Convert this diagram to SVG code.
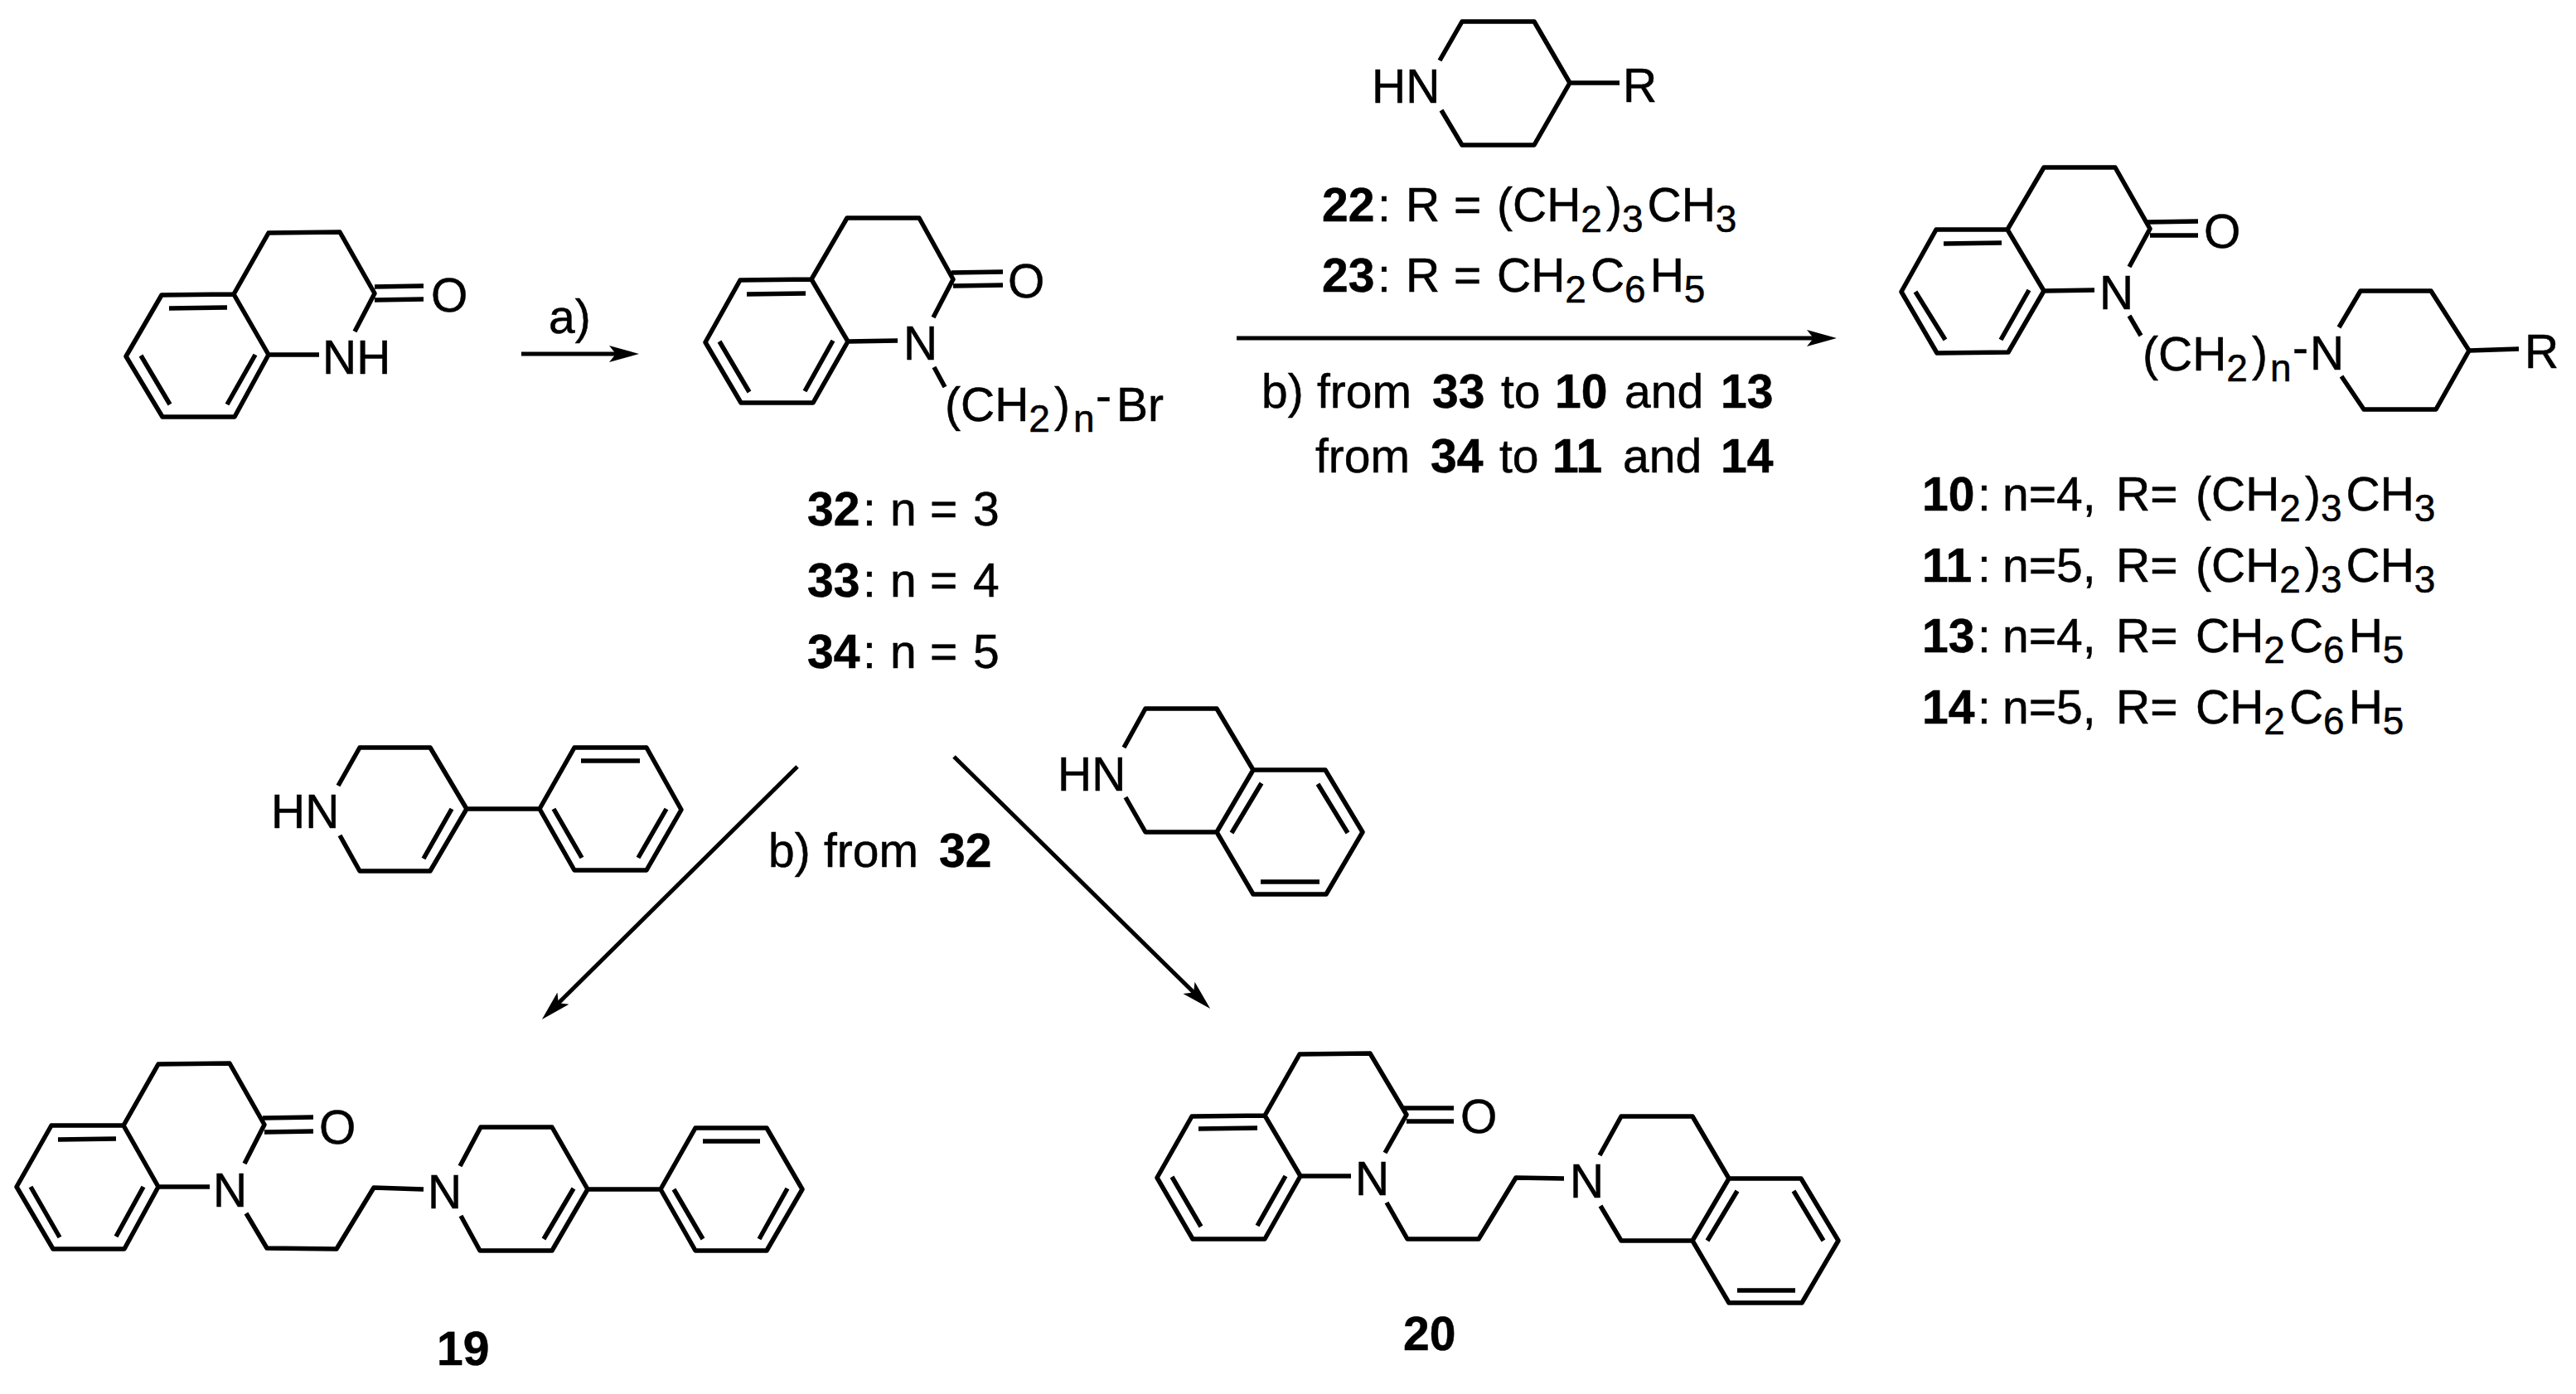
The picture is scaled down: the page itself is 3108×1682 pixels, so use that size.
<svg xmlns="http://www.w3.org/2000/svg" width="3108" height="1682" viewBox="0 0 3108 1682">
<style>
.b{fill:none;stroke:#000;stroke-width:5.5;stroke-linejoin:round;stroke-linecap:butt}
.a{fill:none;stroke:#000;stroke-width:5}
text{font-family:"Liberation Sans",Arial,sans-serif;font-size:57px;fill:#000;stroke:#000;stroke-width:.5px}
.k{font-weight:bold}
.s{font-size:46px;letter-spacing:5px}
</style>
<defs>
<marker id="head" markerUnits="userSpaceOnUse" markerWidth="40" markerHeight="26" viewBox="0 -13 40 26" refX="26" refY="0" orient="auto"><path d="M0,-10 L36,0 L0,10 L8,0 Z" fill="#000"/></marker>
</defs>
<rect width="3108" height="1682" fill="#fff"/>
<g id="connectors">
<path class="a" marker-end="url(#head)" d="M629,427 L761,427"/>
<path class="a" marker-end="url(#head)" d="M1492,408 L2206,408"/>
<path class="a" marker-end="url(#head)" d="M962,925 L661,1223"/>
<path class="a" marker-end="url(#head)" d="M1151,913 L1453,1210"/>
</g>
<g id="mol-start">
<path class="b" d="M282,355 L195,356 L152,430 L196,503 L283,503 L324,428 Z M282,355 L324,281 L410,280 L452,354 L428,400 M324,428 L385,428 M452,346 L511,345 M452,362 L511,361 M204,372 L274,371 M170,429 L205,488 M308,428 L274,488"/>
<text x="520" y="376">O</text>
<text x="389" y="451">NH</text>
</g>
<text id="label-a" x="662" y="402">a)</text>
<g id="mol-32-34">
<path class="b" d="M979,337 L893,338 L851,413 L894,486 L981,486 L1023,412 Z M979,337 L1022,263 L1109,263 L1150,337 L1126,383 M1023,412 L1083,411 M1127,443 L1140,467 M1148,329 L1210,328 M1150,345 L1210,344 M901,355 L972,354 M868,412 L904,473 M1005,411 L971,472"/>
<text x="1216" y="359">O</text>
<text x="1090" y="434">N</text>
<text x="1140" y="508">(CH<tspan class="s" dy="13">2</tspan><tspan dy="-13">)</tspan><tspan class="s" x="1295" dy="13">n</tspan><tspan x="1322" dy="-24">-</tspan><tspan x="1347" dy="11">Br</tspan></text>
</g>
<g id="labels-32-34">
<text y="634"><tspan class="k" x="974">32</tspan><tspan x="1041">:</tspan><tspan x="1074">n</tspan><tspan x="1122">=</tspan><tspan x="1174">3</tspan></text>
<text y="720"><tspan class="k" x="974">33</tspan><tspan x="1041">:</tspan><tspan x="1074">n</tspan><tspan x="1122">=</tspan><tspan x="1174">4</tspan></text>
<text y="806"><tspan class="k" x="974">34</tspan><tspan x="1041">:</tspan><tspan x="1074">n</tspan><tspan x="1122">=</tspan><tspan x="1174">5</tspan></text>
</g>
<g id="reagent-piperidine">
<path class="b" d="M1737,73 L1764,26 L1851,26 L1894,100 L1851,175 L1764,175 L1739,133 M1894,100 L1954,100"/>
<text x="1655" y="124">HN</text>
<text x="1958" y="123">R</text>
</g>
<g id="reagent-labels">
<text y="267"><tspan class="k" x="1595">22</tspan><tspan x="1662">:</tspan><tspan x="1696">R</tspan><tspan x="1754">=</tspan><tspan x="1806">(CH</tspan><tspan class="s" dy="13">2</tspan><tspan dy="-13">)</tspan><tspan class="s" dy="13">3</tspan><tspan dy="-13">CH</tspan><tspan class="s" dy="13">3</tspan></text>
<text y="352"><tspan class="k" x="1595">23</tspan><tspan x="1662">:</tspan><tspan x="1696">R</tspan><tspan x="1754">=</tspan><tspan x="1806">CH</tspan><tspan class="s" dy="13">2</tspan><tspan dy="-13">C</tspan><tspan class="s" dy="13">6</tspan><tspan dy="-13">H</tspan><tspan class="s" dy="13">5</tspan></text>
</g>
<g id="label-b1">
<text y="492"><tspan x="1522">b)</tspan><tspan x="1589">from</tspan><tspan class="k" x="1728">33</tspan><tspan x="1811">to</tspan><tspan class="k" x="1876">10</tspan><tspan x="1960">and</tspan><tspan class="k" x="2076">13</tspan></text>
<text y="570"><tspan x="1587">from</tspan><tspan class="k" x="1726">34</tspan><tspan x="1809">to</tspan><tspan class="k" x="1873">11</tspan><tspan x="1958">and</tspan><tspan class="k" x="2076">14</tspan></text>
</g>
<g id="mol-10-14">
<path class="b" d="M2422,277 L2336,277 L2294,352 L2337,426 L2423,425 L2466,351 Z M2422,277 L2466,202 L2552,202 L2594,276 L2569,322 M2466,351 L2527,350 M2569,381 L2583,405 M2591,268 L2652,267 M2594,284 L2652,284 M2345,294 L2415,293 M2311,352 L2347,410 M2448,350 L2414,410 M2822,395 L2848,351 L2933,351 L2979,423 L2939,494 L2852,494 L2825,454 M2979,423 L3039,421"/>
<text x="2659" y="299">O</text>
<text x="2533" y="373">N</text>
<text x="2585" y="447">(CH<tspan class="s" dy="13">2</tspan><tspan dy="-13">)</tspan><tspan class="s" x="2739" dy="13">n</tspan><tspan x="2766" dy="-21">-</tspan></text>
<text x="2787" y="446">N</text>
<text x="3046" y="444">R</text>
</g>
<g id="labels-10-14">
<text y="616"><tspan class="k" x="2319">10</tspan><tspan x="2386">:</tspan><tspan x="2416">n=4,</tspan><tspan x="2553">R=</tspan><tspan x="2649">(CH</tspan><tspan class="s" dy="13">2</tspan><tspan dy="-13">)</tspan><tspan class="s" dy="13">3</tspan><tspan dy="-13">CH</tspan><tspan class="s" dy="13">3</tspan></text>
<text y="702"><tspan class="k" x="2319">11</tspan><tspan x="2386">:</tspan><tspan x="2416">n=5,</tspan><tspan x="2553">R=</tspan><tspan x="2649">(CH</tspan><tspan class="s" dy="13">2</tspan><tspan dy="-13">)</tspan><tspan class="s" dy="13">3</tspan><tspan dy="-13">CH</tspan><tspan class="s" dy="13">3</tspan></text>
<text y="787"><tspan class="k" x="2319">13</tspan><tspan x="2386">:</tspan><tspan x="2416">n=4,</tspan><tspan x="2553">R=</tspan><tspan x="2649">CH</tspan><tspan class="s" dy="13">2</tspan><tspan dy="-13">C</tspan><tspan class="s" dy="13">6</tspan><tspan dy="-13">H</tspan><tspan class="s" dy="13">5</tspan></text>
<text y="873"><tspan class="k" x="2319">14</tspan><tspan x="2386">:</tspan><tspan x="2416">n=5,</tspan><tspan x="2553">R=</tspan><tspan x="2649">CH</tspan><tspan class="s" dy="13">2</tspan><tspan dy="-13">C</tspan><tspan class="s" dy="13">6</tspan><tspan dy="-13">H</tspan><tspan class="s" dy="13">5</tspan></text>
</g>
<g id="reagent-phenyl-thp">
<path class="b" d="M408,948 L434,902 L519,902 L563,976 L519,1051 L434,1051 L410,1008 M545,976 L511,1036 M563,976 L651,976 L693,902 L780,902 L822,977 L780,1050 L693,1050 L651,976 M701,918 L772,918 M668,976 L702,1035 M804,976 L770,1035"/>
<text x="327" y="999">HN</text>
</g>
<text id="label-b2" y="1046"><tspan x="927">b)</tspan><tspan x="994">from</tspan><tspan class="k" x="1133">32</tspan></text>
<g id="reagent-thiq">
<path class="b" d="M1356,902 L1382,855 L1468,855 L1512,929 L1468,1004 L1382,1004 L1358,962 M1512,929 L1599,929 L1644,1004 L1600,1079 L1512,1079 L1468,1004 M1522,945 L1486,1005 M1590,946 L1626,1005 M1521,1064 L1592,1064"/>
<text x="1276" y="954">HN</text>
</g>
<g id="mol-19">
<path class="b" d="M149,1358 L62,1358 L20,1432 L64,1507 L150,1507 L191,1432 Z M149,1358 L191,1284 L277,1283 L319,1357 L295,1404 M191,1432 L253,1432 M317,1349 L378,1348 M319,1366 L378,1365 M70,1375 L140,1374 M37,1432 L72,1493 M173,1432 L140,1492 M297,1464 L322,1506 L406,1507 L451,1433 L511,1435 M555,1407 L580,1360 L666,1360 L709,1435 L666,1509 L579,1509 L556,1467 M692,1434 L656,1495 M709,1435 L797,1435 L839,1361 L925,1361 L968,1435 L925,1509 L839,1509 L797,1435 M848,1377 L917,1377 M813,1435 L848,1495 M950,1434 L916,1495"/>
<text x="385" y="1380">O</text>
<text x="257" y="1456">N</text>
<text x="516" y="1458">N</text>
<text class="k" x="527" y="1647">19</text>
</g>
<g id="mol-20">
<path class="b" d="M1526,1346 L1438,1347 L1396,1421 L1439,1495 L1526,1495 L1569,1419 Z M1526,1346 L1568,1272 L1653,1271 L1697,1345 L1671,1391 M1569,1419 L1630,1419 M1694,1337 L1754,1337 M1697,1353 L1754,1353 M1446,1362 L1517,1361 M1414,1420 L1449,1480 M1551,1419 L1517,1479 M1673,1451 L1698,1495 L1784,1495 L1829,1421 L1887,1422 M1930,1394 L1956,1347 L2042,1347 L2086,1422 L2042,1497 L1956,1497 L1931,1455 M2086,1422 L2173,1422 L2218,1497 L2174,1572 L2086,1572 L2042,1497 M2096,1437 L2060,1497 M2164,1437 L2200,1497 M2096,1557 L2166,1557"/>
<text x="1762" y="1367">O</text>
<text x="1635" y="1442">N</text>
<text x="1894" y="1445">N</text>
<text class="k" x="1693" y="1629">20</text>
</g>
</svg>
